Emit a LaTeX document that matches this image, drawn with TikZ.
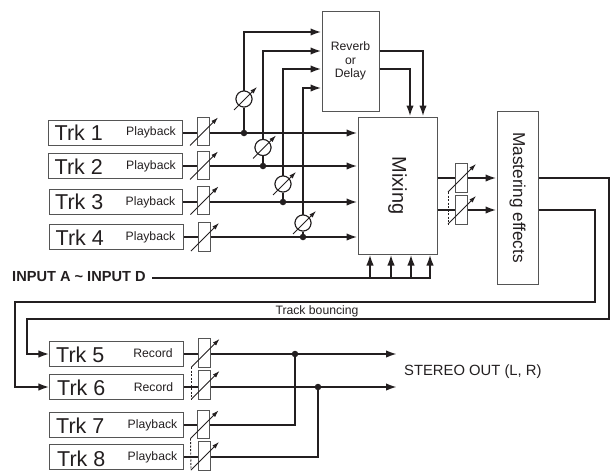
\documentclass[tikz,border=0pt]{standalone}
\usepackage{fontspec}
\setmainfont{Liberation Sans}
\usetikzlibrary{arrows.meta}
\definecolor{ink}{HTML}{231F20}
\definecolor{edge}{HTML}{555555}
\newcommand{\fs}[1]{\fontsize{#1}{#1}\selectfont}
\tikzset{
  x=1pt,y=-1pt,
  box/.style={draw=edge,line width=1pt,fill=white,inner sep=0pt,text=ink},
  trkbox/.style={box,minimum width=133.5pt,minimum height=25pt},
  trktext/.style={inner sep=0pt,anchor=west,text=ink,font=\fs{21.5}},
  modetext/.style={inner sep=0pt,text=ink,font=\fs{12.2}},
  fader/.style={draw=edge,line width=1pt,fill=white,inner sep=0pt,minimum width=12pt,minimum height=28.5pt},
  pot/.style={circle,draw=ink,line width=1pt,fill=white,inner sep=0pt,minimum size=16pt},
  sig/.style={draw=ink,line width=2pt},
  sigto/.style={sig,-{Latex[length=11pt,width=7.5pt]}},
  adj/.style={draw=ink,line width=0.9pt,-{Latex[length=7pt,width=4.5pt]}},
  gang/.style={draw=ink,line width=0.9pt,dash pattern=on 2pt off 1.5pt},
  dot/.style={circle,fill=ink,inner sep=0pt,minimum size=6.5pt},
}
\newcommand{\adjust}[1]{\draw[adj] ([shift={(-13,14)}]#1.center) -- ([shift={(15,-14)}]#1.center);}
\newcommand{\potadj}[1]{\draw[adj] ([shift={(-10,11)}]#1.center) -- ([shift={(13,-12)}]#1.center);}
\begin{document}
\begin{tikzpicture}
\useasboundingbox (0,0) rectangle (611,471);
% track boxes
\node[trkbox] (t1) at (115.5,133) {};
\node[trkbox] (t2) at (115.5,166) {};
\node[trkbox] (t3) at (116,202) {};
\node[trkbox] (t4) at (116.7,237) {};
\node[trkbox] (t5) at (116.7,354) {};
\node[trkbox] (t6) at (116.7,387) {};
\node[trkbox] (t7) at (116.7,425) {};
\node[trkbox] (t8) at (116.7,457) {};
\node[trktext] at (54.5,133) {Trk 1};
\node[trktext] at (54.5,167) {Trk 2};
\node[trktext] at (55,202) {Trk 3};
\node[trktext] at (55.5,237.5) {Trk 4};
\node[trktext] at (56,354.5) {Trk 5};
\node[trktext] at (57,388) {Trk 6};
\node[trktext] at (56,426) {Trk 7};
\node[trktext] at (57,458.5) {Trk 8};
\node[modetext] at (151,132.5) {Playback};
\node[modetext] at (151,166.5) {Playback};
\node[modetext] at (150.5,202.5) {Playback};
\node[modetext] at (150.5,237.5) {Playback};
\node[modetext] at (153,353) {Record};
\node[modetext] at (153.5,387) {Record};
\node[modetext] at (152.5,425) {Playback};
\node[modetext] at (152.5,457.5) {Playback};
% main blocks
\node[box,minimum width=57pt,minimum height=100pt,align=center,font=\fs{12.2}] (fx) at (350.5,61)
  {Reverb\\[1.5pt]or\\[1.5pt]Delay};
\node[box,minimum width=79pt,minimum height=137pt] (mix) at (397.5,185.5)
  {\rotatebox{-90}{\fs{20}Mixing}};
\node[box,minimum width=41pt,minimum height=173pt] (master) at (517.5,197.5)
  {\rotatebox{-90}{\fs{17.2}Mastering effects}};
% track faders
\node[fader] (f1) at (203,131.5) {};
\node[fader] (f2) at (203,165.5) {};
\node[fader] (f3) at (203.5,200.5) {};
\node[fader] (f4) at (204,237) {};
\node[fader] (m1) at (461,178) {};
\node[fader] (m2) at (461,210) {};
\node[fader] (f5) at (204.5,353) {};
\node[fader] (f6) at (204.5,385) {};
\node[fader] (f7) at (203.5,424.5) {};
\node[fader] (f8) at (204,456) {};
% send pots
\node[pot] (p1) at (244,99) {};
\node[pot] (p2) at (263,147.5) {};
\node[pot] (p3) at (283,184) {};
\node[pot] (p4) at (303,223) {};
% junctions
\node[dot] (j1) at (244,133) {};
\node[dot] (j2) at (263,166) {};
\node[dot] (j3) at (283,202) {};
\node[dot] (j4) at (303,237) {};
\node[dot] (j5) at (295,354) {};
\node[dot] (j6) at (318,387) {};
% free ends and bends
\coordinate (in1) at (fx.west |- 0,32);
\coordinate (in2) at (fx.west |- 0,51);
\coordinate (in3) at (fx.west |- 0,69);
\coordinate (in4) at (fx.west |- 0,88);
\coordinate (o5) at (397,354);
\coordinate (o6) at (397,387);
\coordinate (ib) at (152,278);
\coordinate (ie) at (431,278);
% track to fader to mix
\foreach \a/\b in {t1/f1,t2/f2,t3/f3,t4/f4,t5/f5,t6/f6,t7/f7,t8/f8}
  \draw[sig] (\a.east) -- (\a.east -| \b.west);
\draw[sigto] (f1.east |- j1) -- (j1) -- (j1 -| mix.west);
\draw[sigto] (f2.east |- j2) -- (j2) -- (j2 -| mix.west);
\draw[sigto] (f3.east |- j3) -- (j3) -- (j3 -| mix.west);
\draw[sigto] (f4.east |- j4) -- (j4) -- (j4 -| mix.west);
% sends
\draw[sig] (j1) -- (p1);
\draw[sig] (j2) -- (p2);
\draw[sig] (j3) -- (p3);
\draw[sig] (j4) -- (p4);
\draw[sigto] (p1.north) |- (in1);
\draw[sigto] (p2.north) |- (in2);
\draw[sigto] (p3.north) |- (in3);
\draw[sigto] (p4.north) |- (in4);
% redraw pots above crossing lines
\node[pot] at (p1) {};
\node[pot] at (p2) {};
\node[pot] at (p3) {};
\node[pot] at (p4) {};
% fx returns
\draw[sigto] (fx.east |- 0,51) -| (423,116.5);
\draw[sigto] (fx.east |- 0,69) -| (410,116.5);
% input bus
\node[anchor=west,inner sep=0pt,text=ink,font=\bfseries\fs{14.6}] (inp) at (12,277) {INPUT A \textasciitilde{} INPUT D};
\draw[sig] (ib) -- (ie);
\draw[sigto] (370,278) -- (370,254.5);
\draw[sigto] (391,278) -- (391,254.5);
\draw[sigto] (411,278) -- (411,254.5);
\draw[sigto] (430,279) -- (430,254.5);
% mix to master
\draw[sig] (mix.east |- m1) -- (m1.west);
\draw[sig] (mix.east |- m2) -- (m2.west);
\draw[sigto] (m1.east) -- (m1.east -| master.west);
\draw[sigto] (m2.east) -- (m2.east -| master.west);
% bounce lines
\draw[sigto] (master.east |- m1) -- (609,178) -- (609,319) -- (27,319) -- (27,354) -- (t5.west);
\draw[sigto] (master.east |- m2) -- (595,210) -- (595,302) -- (15,302) -- (15,387) -- (t6.west);
\node[inner sep=0pt,text=ink,font=\fs{12.2}] (tb) at (317,311) {Track bouncing};
% outputs
\draw[sigto] (f5.east |- j5) -- (j5) -- (o5);
\draw[sigto] (f6.east |- j6) -- (j6) -- (o6);
\draw[sig] (f7.east |- t7) -| (j5);
\draw[sig] (f8.east |- t8) -| (j6);
\node[anchor=west,inner sep=0pt,text=ink,font=\fs{14.8}] (so) at (404,372) {STEREO OUT (L, R)};
% adjust arrows
\adjust{f1}\adjust{f2}\adjust{f3}\adjust{f4}\adjust{f5}\adjust{f6}\adjust{f7}\adjust{f8}\adjust{m1}\adjust{m2}
\potadj{p1}\potadj{p2}\potadj{p3}\potadj{p4}
% gang links
\draw[gang] ([shift={(-13,14)}]m1.center) -- ([shift={(-13,14)}]m2.center);
\draw[gang] ([shift={(-13,14)}]f5.center) -- ([shift={(-13,14)}]f6.center);
\draw[gang] ([shift={(-13,14)}]f7.center) -- ([shift={(-13,14)}]f8.center);
\end{tikzpicture}
\end{document}
